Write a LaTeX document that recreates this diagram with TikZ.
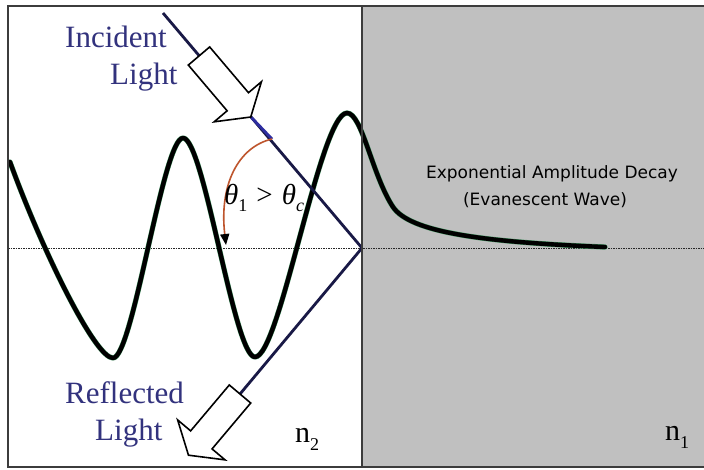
\documentclass[tikz,border=0pt]{standalone}
\usepackage{fontspec}
\setmainfont{Liberation Serif}
\newfontfamily\dejavu{DejaVu Sans}
\usetikzlibrary{arrows.meta}
\definecolor{panelgray}{RGB}{192,192,192}
\definecolor{framegray}{RGB}{60,60,60}
\definecolor{raynavy}{RGB}{25,25,70}
\definecolor{rayblue}{RGB}{45,45,160}
\definecolor{labelblue}{RGB}{50,50,125}
\definecolor{arcred}{RGB}{190,85,45}
\definecolor{wavegreen}{RGB}{70,150,100}
\begin{document}
\begin{tikzpicture}[x=1pt,y=-1pt,
  lbl/.style={text=labelblue,font=\fontsize{31}{34}\selectfont,inner sep=0,anchor=base west},
  blockarrow/.style={draw=black,fill=white,line width=1.6pt,line join=miter},
  ray/.style={draw=raynavy,line width=2.8pt},
  frame/.style={draw=framegray,line width=2pt},
  sanslbl/.style={anchor=base,inner sep=0,font=\dejavu\fontsize{17}{20}\selectfont},
  nlbl/.style={anchor=base west,inner sep=0,font=\fontsize{30}{32}\selectfont}]
\useasboundingbox (0,0) rectangle (704,469);
\fill[white] (0,0) rectangle (704,469);
\fill[panelgray] (362,6) rectangle (704,467);
\draw[black!85, line width=1pt, dash pattern=on 1.5pt off 1pt] (8,248) -- (704,248);
% wave
\def\wavepath{(10,162) .. controls (42,250) and (95,358) .. (113,358)
  .. controls (133,358) and (163,138) .. (183,138)
  .. controls (204,138) and (234,357) .. (255,357)
  .. controls (280,357) and (320,113) .. (347,113)
  .. controls (362,113) and (372,175) .. (393,207)
  .. controls (410,232) and (480,242) .. (605,247)}
\draw[wavegreen, line width=5.2pt, line cap=round, line join=round] \wavepath;
\draw[black, line width=4.4pt, line cap=round, line join=round] \wavepath;
% rays
\coordinate (src) at (163,13);
\coordinate (R) at (362,248);
\coordinate (rt) at (240,394);
\coordinate (itip) at (251,117);
\coordinate (iarc) at (272,139);
\draw[ray] (src) -- (R);
\draw[draw=rayblue, line width=2.8pt] (itip) -- (iarc);
\draw[ray] (R) -- (rt);
% block arrows
\begin{scope}[shift={(199,56)},rotate=-49.7]
  \draw[blockarrow] (0,14) -- (60,14) -- (60,31) -- (80,0) -- (60,-31) -- (60,-14) -- (0,-14) -- cycle;
\end{scope}
\begin{scope}[shift={(240,394)},rotate=-130.1]
  \draw[blockarrow] (0,14) -- (60,14) -- (60,31) -- (80,0) -- (60,-31) -- (60,-14) -- (0,-14) -- cycle;
\end{scope}
% angle arc
\draw[arcred, line width=1.6pt, -{Triangle[length=11pt,width=9pt,color=black]}] (iarc) .. controls (238,147) and (219,185) .. (226,245);
% labels
\node[lbl] (inc1) at (65,47) {Incident};
\node[lbl] (inc2) at (110,84) {Light};
\node[lbl] (ref1) at (65,403) {Reflected};
\node[lbl] (ref2) at (95,440) {Light};
\node[anchor=base west, inner sep=0, font=\fontsize{29}{30}\selectfont] (ang) at (224,204)
  {\itshape θ\raisebox{-7pt}{\fontsize{18}{18}\selectfont\upshape 1}\hspace{9pt}\upshape >\hspace{9pt}\itshape θ\raisebox{-7pt}{\fontsize{18}{18}\selectfont c}};
\node[sanslbl] (decay) at (552,178) {Exponential Amplitude Decay};
\node[sanslbl] (evan) at (545,205) {(Evanescent Wave)};
\node[nlbl] (n2) at (295,442) {n\raisebox{-8pt}{\fontsize{18}{18}\selectfont 2}};
\node[nlbl] (n1) at (665,440) {n\raisebox{-8pt}{\fontsize{18}{18}\selectfont 1}};
% frame
\draw[frame] (704,6) -- (8,6) -- (8,467) -- (704,467);
\draw[frame] (362,6) -- (362,467);
\end{tikzpicture}
\end{document}
